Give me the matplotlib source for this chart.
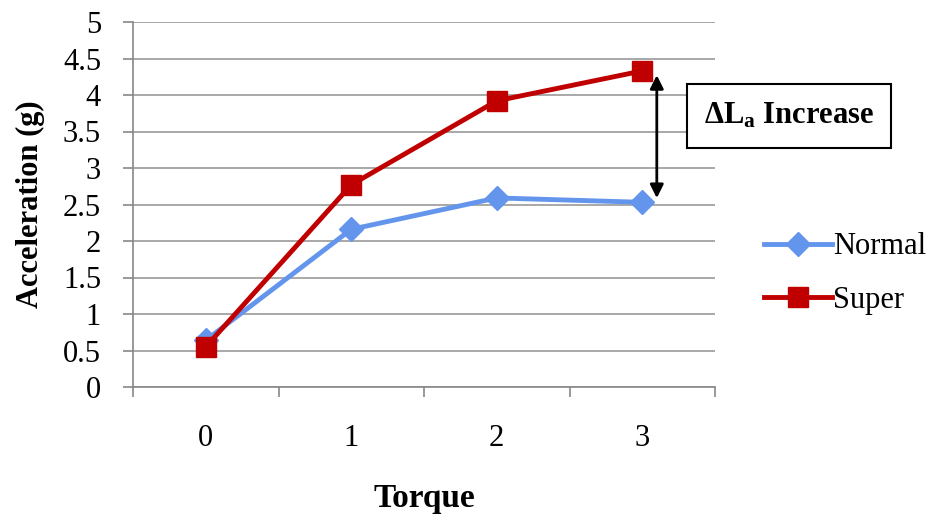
import matplotlib.pyplot as plt

torque = [0, 1, 2, 3]
normal = [0.64, 2.16, 2.59, 2.53]
superr = [0.55, 2.77, 3.92, 4.33]
yticks = [0, 0.5, 1, 1.5, 2, 2.5, 3, 3.5, 4, 4.5, 5]

plt.rcParams['font.family'] = 'Liberation Serif'
plt.rcParams['mathtext.fontset'] = 'custom'
plt.rcParams['mathtext.rm'] = 'Liberation Serif'
plt.rcParams['mathtext.bf'] = 'Liberation Serif:bold'

fig = plt.figure(figsize=(9.35, 5.14), dpi=100)
ax = fig.add_axes([133 / 935, 1 - 387 / 514, (715 - 133) / 935, (387 - 22) / 514])

ax.plot(torque, normal, color='#6495ED', lw=3.5, marker='D', ms=12, label='Normal')
ax.plot(torque, superr, color='#C00000', lw=3.5, marker='s', ms=15, label='Super')

ax.set_xlim(-0.5, 3.5)
ax.set_ylim(0, 5)
ax.set_yticks(yticks)
ax.set_yticklabels(['0', '0.5', '1', '1.5', '2', '2.5', '3', '3.5', '4', '4.5', '5'])
ax.set_xticks([-0.5, 0.5, 1.5, 2.5, 3.5])
ax.set_xticklabels([])
ax.set_xticks(torque, minor=True)
ax.set_xticklabels(['0', '1', '2', '3'], minor=True)
ax.tick_params(axis='x', which='minor', length=0, pad=27, labelsize=22)
ax.tick_params(axis='x', which='major', length=7, color='#888888', width=1.2)
ax.tick_params(axis='y', length=7, color='#888888', width=1.2, labelsize=22, pad=16)
ax.grid(axis='y', color='#999999', lw=1.2)
ax.set_axisbelow(True)
for s in ['top', 'right']:
    ax.spines[s].set_visible(False)
for s in ['left', 'bottom']:
    ax.spines[s].set_color('#888888')
    ax.spines[s].set_linewidth(1.2)

ax.set_ylabel('Acceleration (g)', fontsize=22, fontweight='bold', labelpad=13)
ax.set_xlabel('Torque', fontsize=24, fontweight='bold', labelpad=21)

ax.annotate('', xy=(3.1, superr[3] - 0.02), xytext=(3.1, normal[3] + 0.02),
            arrowprops=dict(arrowstyle='<|-|>', color='black', lw=2, mutation_scale=20),
            annotation_clip=False)
ax.text(789 / 935, 1 - 116 / 514, r'$\mathbf{\Delta L_a}$ Increase', transform=fig.transFigure,
        fontsize=22, fontweight='bold', ha='center', va='center',
        bbox=dict(boxstyle='square,pad=0.55', fc='white', ec='black', lw=1.5))

fig.legend(loc='center left', bbox_to_anchor=(0.788, 0.468), frameon=False,
           fontsize=22, handlelength=2.2, labelspacing=0.8, handletextpad=0.05)

fig.savefig('out.png', dpi=100)
